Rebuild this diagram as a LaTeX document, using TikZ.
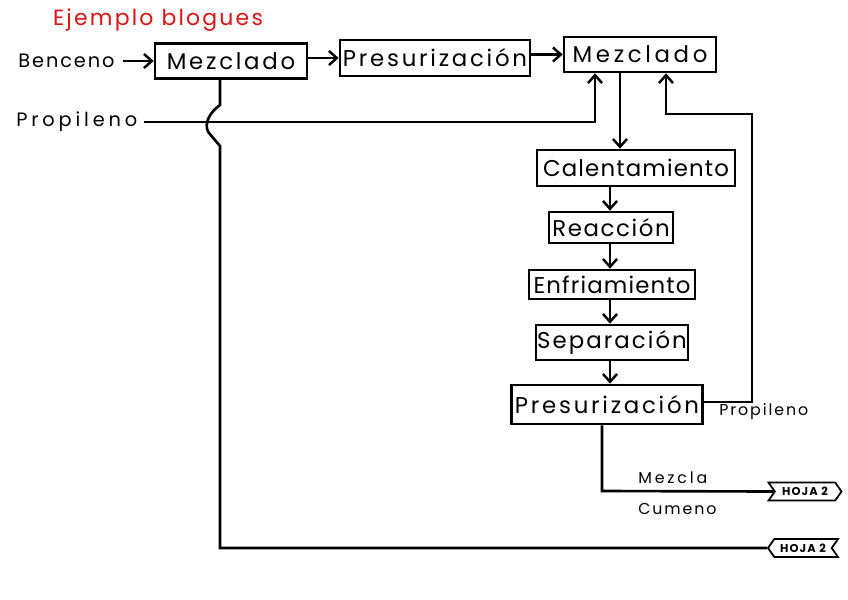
\documentclass[tikz,border=0pt]{standalone}
\usepackage{fontspec}
\setmainfont{Poppins}
\usetikzlibrary{arrows.meta,shapes.symbols}
\definecolor{titlered}{RGB}{220,20,20}
\begin{document}
\begin{tikzpicture}[x=0.02cm,y=-0.02cm,
  line width=1.5pt,
  arr/.style={-{Straight Barb[length=4.5pt,width=8pt,line width=1.4pt]}},
  blk/.style={draw,line width=1.5pt,inner sep=0pt,font=\fontsize{13}{15}\selectfont\addfontfeatures{LetterSpace=12}},
  ls/.style={font=\fontsize{13}{15}\selectfont\addfontfeatures{LetterSpace=#1}},
  lbl/.style={inner sep=0pt,font=\fontsize{11}{13}\selectfont\addfontfeatures{LetterSpace=10}},
  sml/.style={inner sep=0pt,font=\fontsize{9}{11}\selectfont\addfontfeatures{LetterSpace=12}},
  tag/.style={draw,signal,line width=1pt,inner sep=0pt,minimum height=0.36cm,minimum width=1.46cm,signal pointer angle=110,font=\fontsize{6.5}{7}\bfseries\selectfont\addfontfeatures{LetterSpace=10}}]
\useasboundingbox[fill=white] (0,0) rectangle (848,599);
\node[inner sep=0pt,text=titlered,font=\fontsize{12.5}{15}\selectfont\addfontfeatures{LetterSpace=10}] (title) at (158,20) {Ejemplo blogues};
% blocks
\node[blk,minimum width=3.04cm,minimum height=0.70cm] (mez1) at (231,61) {Mezclado};
\node[blk,minimum width=3.80cm,minimum height=0.72cm] (pres1) at (435,58) {Presurización};
\node[blk,ls=16,minimum width=3.04cm,minimum height=0.70cm] (mez2) at (640,54.5) {Mezclado};
\node[blk,ls=5,minimum width=3.96cm,minimum height=0.72cm] (cal) at (636,168) {Calentamiento};
\node[blk,ls=7,minimum width=2.48cm,minimum height=0.62cm] (reac) at (611,227.5) {Reacción};
\node[blk,ls=5,minimum width=3.32cm,minimum height=0.58cm] (enf) at (612,284.5) {Enfriamiento};
\node[blk,ls=9,minimum width=3.04cm,minimum height=0.70cm] (sep) at (612,342.5) {Separación};
\node[blk,minimum width=3.82cm,minimum height=0.78cm] (pres2) at (607,404.5) {Presurización};
% labels
\node[lbl,anchor=west] (benc) at (17,61) {Benceno};
\node[lbl,anchor=west,font=\fontsize{11}{13}\selectfont\addfontfeatures{LetterSpace=20}] (prop) at (15,122) {Propileno};
\node[sml,anchor=west] (prop2) at (718,412) {Propileno};
\node[sml,anchor=west,font=\fontsize{9}{11}\selectfont\addfontfeatures{LetterSpace=18}] (mezcla) at (637,478) {Mezcla};
\node[sml,anchor=west] (cumeno) at (637,509) {Cumeno};
% tags
\node[tag,signal to=east,signal from=west] (hoja1) at (805,491.5) {HOJA 2};
\node[tag,signal to=west,signal from=east,minimum width=1.4cm] (hoja2) at (803,548) {HOJA 2};
% coordinates
\coordinate (pjoin) at (595,122);
\coordinate (rc1) at (752,402);
\coordinate (rc2) at (752,114);
\coordinate (rc3) at (666,114);
\coordinate (j1) at (220,105);
\coordinate (j3) at (220,146);
\coordinate (bl) at (220,548);
\coordinate (mc) at (602,491);
% connectors
\draw[arr] ([xshift=4pt]benc.east) -- (mez1.west);
\draw[arr] (mez1.east |- pres1.west) -- (pres1.west);
\draw[arr] (pres1.east |- mez2.west) -- (mez2.west);
\draw[arr] ([xshift=3pt]prop.east) -- (pjoin) -- (pjoin |- mez2.south);
\draw[arr] (mez2.south -| 620,0) -- (cal.north -| 620,0);
\draw[arr] (cal.south -| 610,0) -- (reac.north -| 610,0);
\draw[arr] (reac.south -| 610,0) -- (enf.north -| 610,0);
\draw[arr] (enf.south -| 610,0) -- (sep.north -| 610,0);
\draw[arr] (sep.south -| 610,0) -- (pres2.north -| 610,0);
\draw[arr] (pres2.east |- rc1) -- (rc1) -- (rc2) -- (rc3) -- (rc3 |- mez2.south);
\draw (pres2.south -| mc) -- (mc) -- (hoja1.west);
\draw (mez1.south -| j1) -- (j1) .. controls (205,116) and (205,128) .. (209,133) -- (j3) -- (bl) -- (hoja2.west);
\end{tikzpicture}
\end{document}
